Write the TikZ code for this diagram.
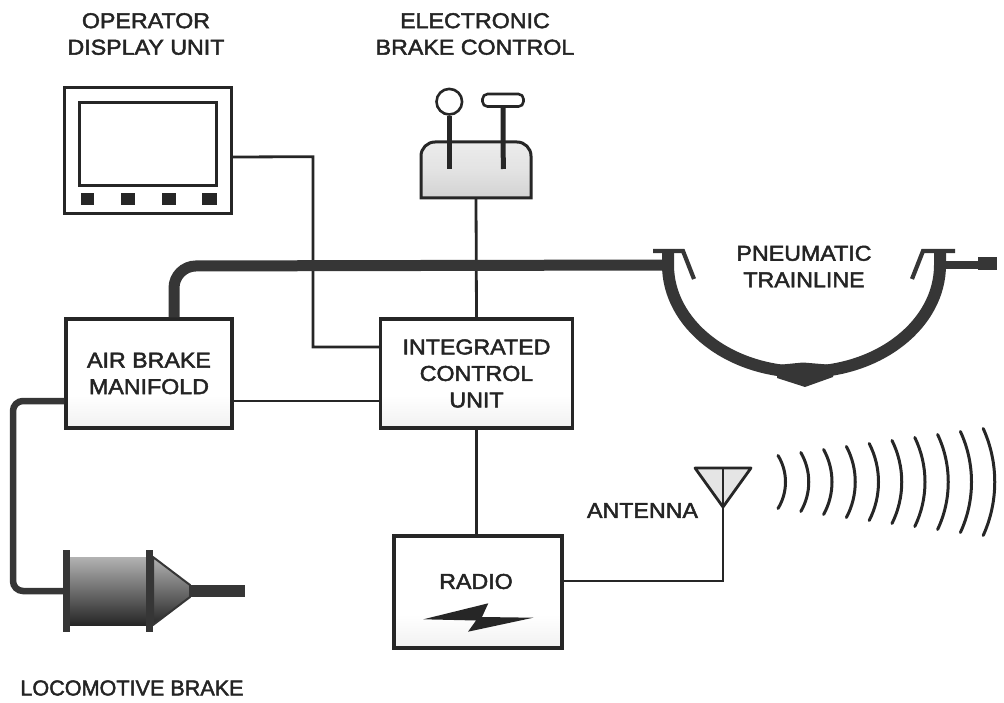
\documentclass[tikz,border=0pt]{standalone}
\usepackage{fontspec}
\setmainfont{Liberation Sans}[FakeStretch=1.08, FakeBold=2.2]
\definecolor{inkc}{HTML}{262626}
\definecolor{pipec}{HTML}{363636}
\definecolor{textc}{HTML}{242424}
\pgfdeclareverticalshading{boxshade}{100bp}{color(0bp)=(black!22); color(18bp)=(black!8); color(40bp)=(white); color(100bp)=(white)}
\pgfdeclareverticalshading{ebcshade}{100bp}{color(0bp)=(black!24); color(50bp)=(black!11); color(100bp)=(black!4)}
\begin{document}
\begin{tikzpicture}[x=1pt,y=-1pt,
  lbl/.style={font=\fontsize{21.5}{26.5}\selectfont, text=textc, align=center, inner sep=0pt},
  box/.style={draw=inkc, line width=3.2pt, shade, shading=boxshade, inner sep=0pt, lbl},
  wire/.style={draw=inkc, line width=2.8pt},
  pipe/.style={draw=pipec, line width=11pt},
  hose/.style={draw=pipec, line width=12pt},
  lpipe/.style={draw=pipec, line width=6.5pt},
  handbar/.style={draw=pipec, line width=4.2pt, line join=miter},
  stem/.style={draw=inkc, line width=5pt},
  knobpart/.style={draw=inkc, line width=2.6pt, fill=white, inner sep=0pt},
  solid block/.style={fill=pipec, draw=none, inner sep=0pt},
  wave/.style={draw=inkc, line width=3pt, line cap=round}]
\useasboundingbox (0,0) rectangle (1004,703);

% ---------- titles ----------
\node[lbl] (tdisp) at (146,34) {OPERATOR\\DISPLAY UNIT};
\node[lbl] (tebc) at (475,34) {ELECTRONIC\\BRAKE CONTROL};
\node[lbl] (ttl) at (804,266.5) {PNEUMATIC\\TRAINLINE};
\node[lbl] (tant) at (642.5,510.5) {ANTENNA};
\node[lbl] (tloco) at (132,688) {\scalebox{0.93}[1]{LOCOMOTIVE BRAKE}};

% ---------- operator display unit ----------
\node[draw=inkc, line width=3pt, fill=white, minimum width=166.7pt, minimum height=126pt, inner sep=0pt] (disp) at (148.3,150.3) {};
\node[draw=inkc, line width=3pt, minimum width=136.7pt, minimum height=82.7pt, inner sep=0pt] (scr) at (148.3,143.7) {};
\foreach \bx/\bw [count=\k] in {87.5/13.6, 128/14, 168.7/14, 209.5/14.4}
  \node[solid block, fill=inkc, minimum width=\bw pt, minimum height=11.7pt] (btn\k) at (\bx,199.2) {};

% ---------- electronic brake control ----------
\node[minimum width=110pt, minimum height=56pt, inner sep=0pt] (ebc) at (476,170) {};
\shade[shading=ebcshade, draw=inkc, line width=3pt]
  (421,198) -- (421,156) arc[start angle=180, end angle=270, radius=14]
  -- (517,142) arc[start angle=270, end angle=360, radius=14] -- (531,198) -- cycle;
\node[knobpart, circle, minimum size=25.6pt] (knob) at (449.3,101.7) {};
\node[knobpart, rounded corners=5pt, minimum width=41pt, minimum height=12.5pt] (thandle) at (503,100.3) {};
\draw[stem] (knob.south) -- (449.3,169);
\draw[stem] (thandle.south) -- (503.3,169);

% ---------- main boxes ----------
\node[box, minimum width=166pt, minimum height=109pt] (abm) at (149,373.5) {AIR BRAKE\\MANIFOLD};
\node[box, minimum width=192pt, minimum height=109pt] (icu) at (476.5,373.5) {INTEGRATED\\CONTROL\\UNIT};
\node[box, minimum width=168pt, minimum height=112pt] (radio) at (478,592) {};
\node[lbl] (radiolbl) at (476,581.5) {RADIO};
\fill[inkc] (423.3,619.3) -- (488.3,603.3) -- (482,617) -- (533.3,617.7) -- (468,631.7) -- (476,620.5) -- cycle;

% ---------- signal wiring ----------
\draw[wire] ([yshift=-6.7pt]disp.east) -- (313,156.7) |- ([yshift=26.5pt]icu.west);
\draw[wire] ([yshift=-27.5pt]abm.east) -- ([yshift=-27.5pt]icu.west);
\draw[wire] (ebc.south) -- (icu.north);
\draw[wire] (icu.south) -- (icu.south |- radio.north);

% ---------- antenna and radiated waves ----------
\coordinate (ant) at (723,507);
\draw[wire] ([yshift=11pt]radio.east) -| (ant);
\filldraw[draw=inkc, fill=black!10, line width=2.8pt, line join=round] (695,468) -- (751,468) -- (ant) -- cycle;
\draw[draw=inkc, line width=2pt] (723,468) -- (ant);
\foreach \i in {0,...,9}{
  \pgfmathsetmacro\wx{778+22.8*\i}
  \pgfmathsetmacro\wh{26.5+3*\i}
  \pgfmathsetmacro\wb{7.5+0.45*\i}
  \pgfmathsetmacro\wr{(\wh*\wh+\wb*\wb)/(2*\wb)}
  \pgfmathsetmacro\wt{asin(\wh/\wr)}
  \draw[wave] (\wx,482-\wh) arc[start angle=-\wt, end angle=\wt, radius=\wr];
}

% ---------- pneumatic trainline ----------
\coordinate (tlL) at (668,265);
\coordinate (tlR) at (940,265);
\draw[pipe, rounded corners=22pt] ([xshift=25pt]abm.north) -- (174,266) -- (tlL);
\draw[hose] (668,253) -- (tlL) arc[start angle=180, end angle=0, x radius=136, y radius=107] -- (940,253);
\fill[pipec] (777,365) -- (803,362.5) -- (833,365) -- (833,377) -- (805,387) -- (777,378) -- cycle;
\draw[handbar] (653,251) -- (683,251) -- (694,279);
\draw[handbar] (955,251) -- (923,251) -- (912,279);
\draw[draw=pipec, line width=8.5pt] (tlR) -- (978,265);
\node[solid block, minimum width=19pt, minimum height=13pt] (tlend) at (987.5,264) {};

% ---------- locomotive brake cylinder ----------
\node[draw=none, top color=black!30, bottom color=black!85, minimum width=77pt, minimum height=68pt, inner sep=0pt] (cyl) at (108.5,591) {};
\shade[top color=black!30, bottom color=black!85, draw=pipec, line width=2pt, line join=round]
  (153,557) -- (190,585) -- (190,597) -- (153,625) -- cycle;
\node[solid block, minimum width=7pt, minimum height=82pt] (flL) at (66.5,591) {};
\node[solid block, minimum width=7pt, minimum height=82pt] (flR) at (149.5,591) {};
\node[solid block, minimum width=55pt, minimum height=12pt] (rod) at (217.5,591) {};
\draw[lpipe, rounded corners=10pt] ([yshift=-27.5pt]abm.west) -- (13,401) -- (13,591) -- (flL.west);
\end{tikzpicture}
\end{document}
